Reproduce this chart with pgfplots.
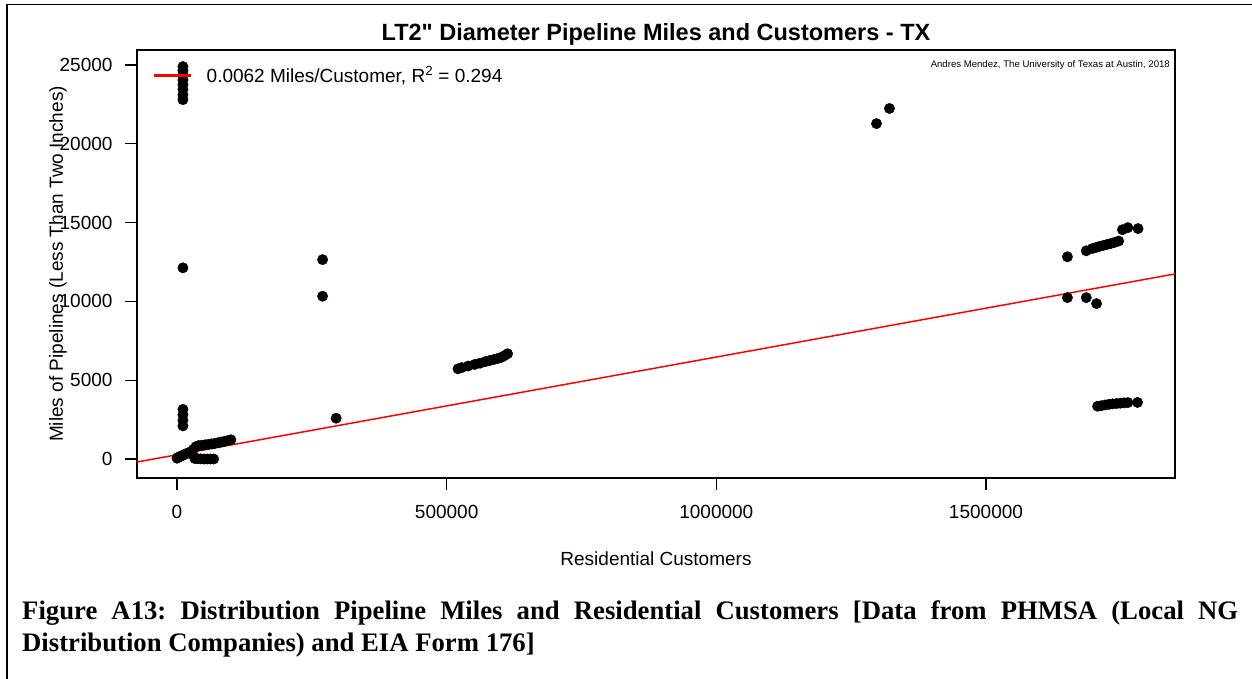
\documentclass[border=0pt]{standalone}
\usepackage{fontspec}
\setmainfont{Liberation Sans}[Ligatures=TeXOff]
\newfontfamily\capfont{Liberation Serif}
\usepackage{pgfplots}
\pgfplotsset{compat=1.18}

% font sizes in bp, picture is 1252bp x 679bp
\newcommand{\axfont}{\fontsize{19bp}{22bp}\selectfont}

\begin{document}
\frenchspacing
\begin{tikzpicture}
\useasboundingbox (0,0) rectangle (1252bp,-679bp);
\draw[line width=1.6bp] (7bp,-679bp) -- (7bp,-4.5bp) -- (1252bp,-4.5bp);

\begin{axis}[
    at={(137bp,-478bp)}, anchor=south west,
    scale only axis,
    width=1038bp, height=428bp,
    xmin=-74170, xmax=1850490,
    ymin=-1205, ymax=25951,
    xtick={0,500000,1000000,1500000},
    ytick={0,5000,10000,15000,20000,25000},
    scaled ticks=false,
    /pgf/number format/.cd, fixed, precision=0, set thousands separator={},
    assume math mode=true,
    /pgfplots/.cd,
    tick align=outside,
    xtick pos=bottom, ytick pos=left,
    major tick length=12bp,
    axis line style={line width=1.3bp},
    every tick/.style={black, line width=1.3bp},
    tick label style={font=\axfont},
    yticklabel style={xshift=-9bp},
    xticklabel style={yshift=-12bp},
    title={LT2" Diameter Pipeline Miles and Customers - TX},
    title style={font=\bfseries\fontsize{23.5bp}{28bp}\selectfont,
        at={(axis description cs:0.5,1.028)}, anchor=base, yshift=-8bp},
    xlabel={Residential Customers},
    ylabel={Miles of Pipelines (Less Than Two Inches)},
    xlabel style={font=\axfont, at={(axis description cs:0.5,-0.2009)}, anchor=base, yshift=-2bp},
    ylabel style={font=\axfont, at={(axis description cs:-0.0761,0.5)}, anchor=center},
    legend style={draw=none, fill=none, font=\axfont,
        at={(axis description cs:0,1)}, anchor=north west,
        inner xsep=15bp, inner ysep=14bp},
    legend cell align=left,
    legend image code/.code={%
        \path[draw=none] (0bp,0bp) -- (51bp,0bp);
        \draw[red, line width=3bp] (0bp,0bp) -- (37bp,0bp);},
    clip=true,
]

% regression line
\addplot[red, line width=1.5bp] coordinates {(-74170,-190) (1850490,11743)};
\addlegendentry{0.0062 Miles/Customer, R\textsuperscript{2} = 0.294}

\addplot[only marks, mark=*, mark size=5.2bp, black, forget plot] coordinates {
 (11000,24900) (11000,24650) (11000,24350) (11000,24050) (11000,23750)
 (11000,23450) (11000,23100) (11000,22800) (11000,12130)
 (11000,3150) (11000,2800) (11000,2450) (11000,2100)
 (0,50) (2000,100) (5000,150) (8000,200) (12000,250) (16000,320)
 (20000,380) (25000,450)
 (30000,600) (35000,780) (40000,850) (46000,870) (52000,900) (58000,930)
 (64000,960) (70000,990) (76000,1030) (82000,1080) (88000,1120)
 (94000,1170) (100000,1220)
 (33000,30) (38000,20) (44000,10) (50000,0) (56000,0) (62000,0) (68000,0)
 (270000,12650) (270000,10330) (295000,2590)
 (521000,5720) (528000,5800) (540000,5900) (552000,6000) (562000,6080)
 (572000,6180) (580000,6250) (588000,6320) (595000,6380) (601000,6450)
 (607000,6550) (613000,6680)
 (1297000,21280) (1321000,22240)
 (1651000,12830) (1686000,13210)
 (1697000,13350) (1704000,13420) (1711000,13500) (1718000,13560)
 (1725000,13620) (1732000,13680) (1739000,13750) (1746000,13830)
 (1753000,14550) (1763000,14680) (1782000,14620)
 (1651000,10240) (1686000,10240) (1705000,9860)
 (1707000,3350) (1714000,3380) (1721000,3430) (1728000,3470)
 (1735000,3500) (1742000,3520) (1749000,3540) (1756000,3560)
 (1763000,3580) (1781000,3590)
};

\node[anchor=north east, inner sep=0pt, font=\fontsize{9.6bp}{11bp}\selectfont]
    at (rel axis cs:1,1) [xshift=-5bp, yshift=-10bp]
    {Andres Mendez, The University of Texas at Austin, 2018};
\end{axis}

\node[anchor=north west, inner sep=0pt, text width=1216bp, align=justify,
      font=\capfont\bfseries\fontsize{26.7bp}{32bp}\selectfont]
    at (22bp,-600bp)
    {Figure A13: Distribution Pipeline Miles and Residential Customers [Data from PHMSA (Local NG\linebreak Distribution Companies) and EIA Form 176]};
\end{tikzpicture}
\end{document}
